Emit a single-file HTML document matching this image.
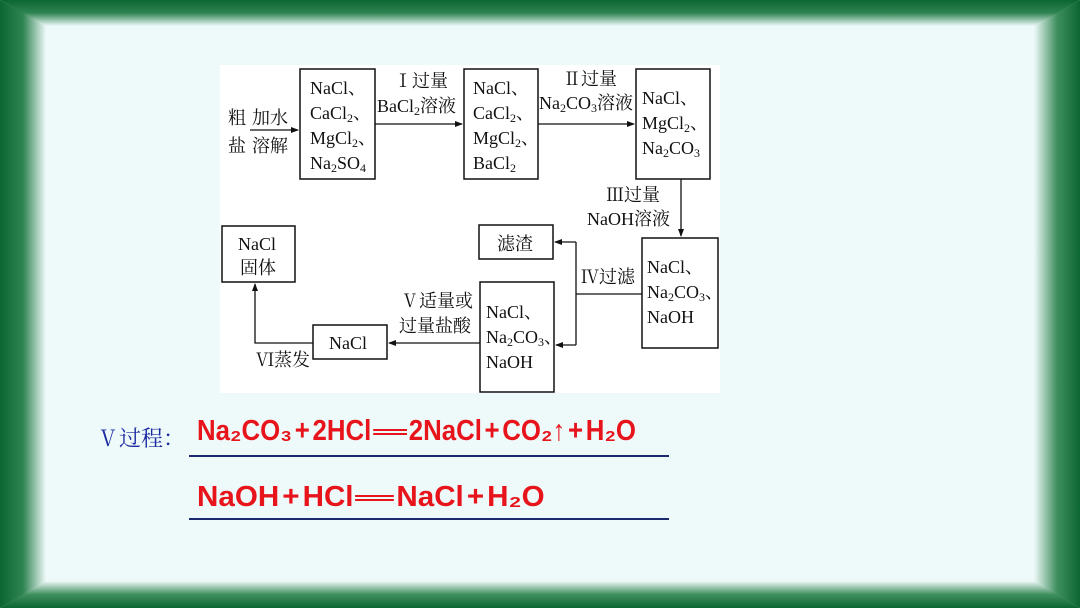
<!DOCTYPE html>
<html><head><meta charset="utf-8"><style>
body{margin:0;width:1080px;height:608px;overflow:hidden;background:#eef9f9;position:relative;font-family:"Liberation Serif","Noto Serif CJK SC",serif}
.b{position:absolute}
#t{left:0;top:0;width:1080px;height:26px;background:linear-gradient(#0b6632,#2f8452 50%,#eef9f9);clip-path:polygon(0 0,100% 0,calc(100% - 45px) 100%,45px 100%)}
#bo{left:0;bottom:0;width:1080px;height:27px;background:linear-gradient(#eef9f9,#3f8f5e 50%,#0b6632);clip-path:polygon(45px 0,calc(100% - 45px) 0,100% 100%,0 100%)}
#l{left:0;top:0;width:46px;height:608px;background:linear-gradient(90deg,#0b6632,#2f8452 50%,#eef9f9);clip-path:polygon(0 0,100% 26px,100% calc(100% - 27px),0 100%)}
#r{right:0;top:0;width:46px;height:608px;background:linear-gradient(90deg,#eef9f9,#3f8f5e 50%,#0b6632);clip-path:polygon(0 26px,100% 0,100% 100%,0 calc(100% - 27px))}
.eq{position:absolute;color:#e8141c;font-family:"Liberation Sans",sans-serif;font-weight:bold;font-size:29px;white-space:nowrap;transform-origin:0 50%}
.eq i{font-style:normal;padding:0 3px}
.eq s{text-decoration:none;display:inline-block;width:38px;height:6px;border-top:2px solid #e8141c;border-bottom:2px solid #e8141c;vertical-align:middle;margin:0 2px;box-sizing:border-box}
.ul{position:absolute;left:189px;width:480px;height:2px;background:#1a2a6c}
</style></head><body>
<div class="b" id="t"></div><div class="b" id="bo"></div><div class="b" id="l"></div><div class="b" id="r"></div>
<svg class="b" style="left:0;top:0" width="1080" height="608" font-family="'Liberation Serif','Noto Serif CJK SC',serif" font-size="18" fill="#111">
<defs><marker id="a" markerWidth="8" markerHeight="8" refX="7" refY="4" orient="auto" markerUnits="userSpaceOnUse"><path d="M0,1 L8,4 L0,7z" fill="#111"/></marker></defs>
<rect x="220" y="65" width="500" height="328" fill="#fff"/>
<g fill="none" stroke="#111" stroke-width="1.5">
<rect x="300" y="69" width="75" height="110"/>
<rect x="464" y="69" width="74" height="110"/>
<rect x="636" y="69" width="74" height="110"/>
<rect x="642" y="238" width="76" height="110"/>
<rect x="479" y="225" width="74" height="34"/>
<rect x="480" y="282" width="74" height="110"/>
<rect x="313" y="325" width="74" height="34"/>
<rect x="222" y="226" width="73" height="56"/>
<g stroke-width="1.3">
<line x1="250" y1="130" x2="298" y2="130" marker-end="url(#a)"/>
<line x1="375" y1="124" x2="462" y2="124" marker-end="url(#a)"/>
<line x1="538" y1="124" x2="634" y2="124" marker-end="url(#a)"/>
<line x1="681" y1="179" x2="681" y2="236" marker-end="url(#a)"/>
<line x1="642" y1="294" x2="576" y2="294"/>
<line x1="576" y1="242" x2="576" y2="345"/>
<line x1="576" y1="242" x2="555" y2="242" marker-end="url(#a)"/>
<line x1="576" y1="345" x2="556" y2="345" marker-end="url(#a)"/>
<line x1="480" y1="343" x2="389" y2="343" marker-end="url(#a)"/>
<polyline points="313,343 255,343 255,284" marker-end="url(#a)"/>
</g></g>
<text x="228" y="124">粗</text><text x="228" y="152">盐</text>
<text x="252" y="124">加水</text><text x="252" y="152">溶解</text>
<g font-size="18">
<text x="310" y="94">NaCl、</text><text x="310" y="119">CaCl<tspan font-size="12" dy="3">2</tspan><tspan dy="-3">、</tspan></text><text x="310" y="144">MgCl<tspan font-size="12" dy="3">2</tspan><tspan dy="-3">、</tspan></text><text x="310" y="169">Na<tspan font-size="12" dy="3">2</tspan><tspan dy="-3">SO</tspan><tspan font-size="12" dy="3">4</tspan></text>
<text x="473" y="94">NaCl、</text><text x="473" y="119">CaCl<tspan font-size="12" dy="3">2</tspan><tspan dy="-3">、</tspan></text><text x="473" y="144">MgCl<tspan font-size="12" dy="3">2</tspan><tspan dy="-3">、</tspan></text><text x="473" y="169">BaCl<tspan font-size="12" dy="3">2</tspan></text>
<text x="642" y="104">NaCl、</text><text x="642" y="129">MgCl<tspan font-size="12" dy="3">2</tspan><tspan dy="-3">、</tspan></text><text x="642" y="154">Na<tspan font-size="12" dy="3">2</tspan><tspan dy="-3">CO</tspan><tspan font-size="12" dy="3">3</tspan></text>
<text x="647" y="273">NaCl、</text><text x="647" y="298">Na<tspan font-size="12" dy="3">2</tspan><tspan dy="-3">CO</tspan><tspan font-size="12" dy="3">3</tspan><tspan dy="-3">、</tspan></text><text x="647" y="323">NaOH</text>
<text x="486" y="318">NaCl、</text><text x="486" y="343">Na<tspan font-size="12" dy="3">2</tspan><tspan dy="-3">CO</tspan><tspan font-size="12" dy="3">3</tspan><tspan dy="-3">、</tspan></text><text x="486" y="368">NaOH</text>
<text x="329" y="349">NaCl</text>
<text x="238" y="250">NaCl</text><text x="240" y="274">固体</text>
<text x="497" y="250">滤渣</text>
<text x="394" y="87">Ⅰ过量</text><text x="377" y="112">BaCl<tspan font-size="12" dy="3">2</tspan><tspan dy="-3">溶液</tspan></text>
<text x="563" y="85">Ⅱ过量</text><text x="539" y="109">Na<tspan font-size="12" dy="3">2</tspan><tspan dy="-3">CO</tspan><tspan font-size="12" dy="3">3</tspan><tspan dy="-3">溶液</tspan></text>
<text x="606" y="201">Ⅲ过量</text><text x="587" y="225">NaOH溶液</text>
<text x="581" y="283">Ⅳ过滤</text>
<text x="401" y="307">Ⅴ适量或</text><text x="399" y="332">过量盐酸</text>
<text x="256" y="366">Ⅵ蒸发</text>
</g>
<text x="97" y="446" font-size="22" fill="#1a2aa0">Ⅴ过程：</text>
</svg>
<div class="eq" style="left:197px;top:415px;transform:scaleX(0.89)">Na₂CO₃<i>+</i>2HCl<s></s>2NaCl<i>+</i>CO₂↑<i>+</i>H₂O</div>
<div class="ul" style="top:455px"></div>
<div class="eq" style="left:197px;top:481px;transform:scaleX(1.02)">NaOH<i>+</i>HCl<s></s>NaCl<i>+</i>H₂O</div>
<div class="ul" style="top:518px"></div>
</body></html>
